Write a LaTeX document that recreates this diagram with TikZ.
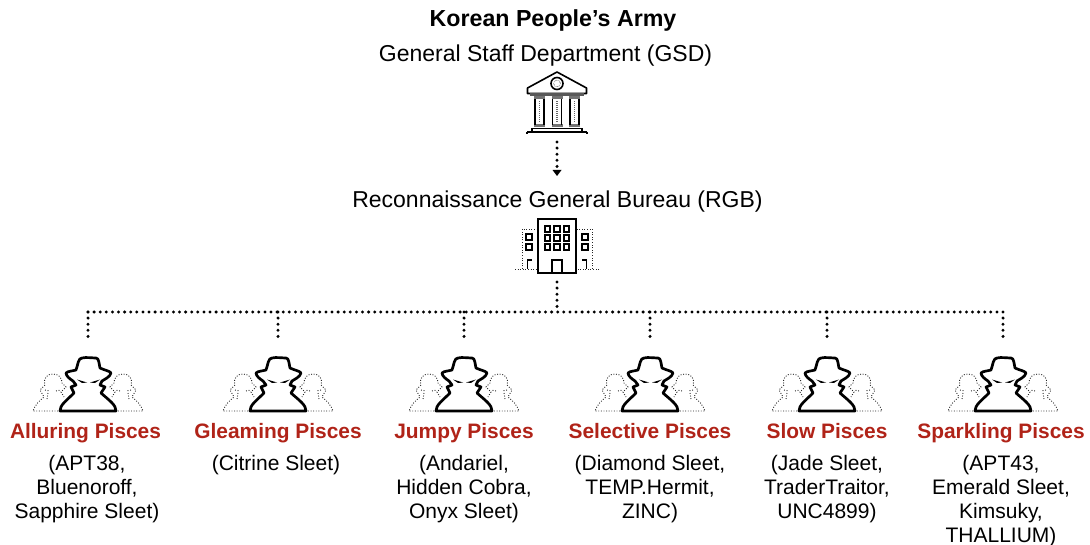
\documentclass[tikz,border=0pt]{standalone}
\usepackage{fontspec}
\setmainfont{Liberation Sans}
\definecolor{pisces}{HTML}{B02318}
\newcommand{\ghostfigure}{%
    \draw[ghost] (-30,0) -- (-55,0) .. controls (-53,-6) and (-49,-10) .. (-44,-14) -- (-48,-21) -- (-43,-26)
      .. controls (-45,-33) and (-41,-37) .. (-35,-37) .. controls (-29,-37) and (-26,-33) .. (-26,-28) -- (-22,-24) -- (-27,-19) -- (-24,-14);
    \draw[ghost] (-43,-21) -- (-38,-20) (-32,-20) -- (-27,-21) (-40,-18) -- (-41,-12);
}
\tikzset{
  x=1pt,y=-1pt,
  headbold/.style={font=\fontsize{23.2}{27}\selectfont\bfseries,anchor=base,inner sep=0pt},
  headplain/.style={font=\fontsize{23}{27}\selectfont,anchor=base,inner sep=0pt},
  group/.style={font=\fontsize{20.9}{24}\selectfont\bfseries,text=pisces,anchor=base,inner sep=0pt},
  alias/.style={font=\fontsize{21}{24}\selectfont,align=center,anchor=north,inner sep=0pt},
  link/.style={line width=3.3pt,line cap=round,dash pattern=on 0pt off 6.1pt},
  ghost/.style={line width=.9pt,dash pattern=on .9pt off 1.7pt,black!85},
  ink/.style={line width=2.7pt,line join=round,black},
  thin ink/.style={line width=1.6pt,black},
  spyicon/.pic={
    \ghostfigure
    \begin{scope}[xscale=-1]\ghostfigure\end{scope}
    \draw[ink,fill=white]
      (-28,0) .. controls (-28,-6) and (-22,-10) .. (-14,-18)
      -- (-17,-24) -- (-12,-26) -- (-15,-30)
      .. controls (-18,-32) and (-22,-35) .. (-22,-38)
      .. controls (-20,-40) and (-15,-40) .. (-12,-41)
      .. controls (-10,-46) and (-10,-53) .. (-6,-53)
      .. controls (-2,-54) and (4,-53) .. (8,-53)
      .. controls (11,-53) and (11,-47) .. (12,-43)
      .. controls (16,-41) and (22,-40) .. (23,-38)
      .. controls (22,-34) and (17,-32) .. (14,-30)
      -- (12,-26) -- (17,-24) -- (13,-18)
      .. controls (22,-10) and (28,-6) .. (28,0) -- cycle;
    \fill (-11,-31.5) -- (-1,-28.5) -- (-6,-28) -- cycle;
    \fill (12,-31.5) -- (2,-28.5) -- (7,-28) -- cycle;
  },
  bankicon/.pic={
    \draw[thin ink,line join=round,fill=white] (-29.5,-19) -- (0,-35) -- (29.5,-19) -- (29.5,-13.5) -- (-29.5,-13.5) -- cycle;
    \draw[thin ink] (0,-23.5) circle (6);
    \draw[black,line width=.5pt,densely dotted] (0,-23.5) circle (3.4);
    \fill[black!65] (-27,-13.5) rectangle (27,-10.5);
    \foreach \c in {-17.5,0,17.5}{
      \fill[black!55] (\c-5.5,-10.5) rectangle (\c+5.5,-7.5);
      \fill[black!55] (\c-5.5,17.5) rectangle (\c+5.5,20.5);
      \draw[thin ink] (\c-4.5,-8) -- (\c-4.5,18) (\c+4.5,-8) -- (\c+4.5,18);
      \draw[black!60,line width=1.2pt,dash pattern=on 1pt off 1pt] (\c,-6) -- (\c,16);
    }
    \draw[thin ink] (-25,21.5) -- (25,21.5) (-25,21.5) -- (-25,24.5) (25,21.5) -- (25,24.5) (-30,25) -- (30,25) (-30,25) -- (-30,27) (30,25) -- (30,27);
  },
  officeicon/.pic={
    \draw[ghost] (-42,50) -- (-21,50) (-35,50) -- (-35,10) -- (-20,10)
                 (42,50) -- (21,50) (35,50) -- (35,10) -- (20,10);
    \draw[line width=2pt] (-19,0) rectangle (19,54);
    \draw[line width=2pt] (-5,41) rectangle (5,54);
    \foreach \a in {-9.5,0,9.5}\foreach \b in {10,19,28}
      \draw[line width=1.8pt] (\a-2.8,\b-2.8) rectangle (\a+2.8,\b+2.8);
    \foreach \s in {-1,1}{
      \draw[line width=1.8pt] (\s*28-2.8,18-2.8) rectangle (\s*28+2.8,18+2.8);
      \draw[line width=1.8pt] (\s*28-2.8,28-2.8) rectangle (\s*28+2.8,28+2.8);
      \draw[line width=1.6pt] (\s*29.5,50) -- (\s*29.5,41) -- (\s*25,41);
    }
  }
}
\begin{document}
\begin{tikzpicture}
\useasboundingbox (0,0) rectangle (1090,545);
\node[headbold] (kpa) at (553,26.5) {Korean People’s Army};
\node[headplain] (gsd) at (545.5,61.5) {General Staff Department (GSD)};
\pic at (557,107) {bankicon};
\coordinate (gsdout) at (557,142);
\node[headplain] (rgb) at (557.5,207.5) {Reconnaissance General Bureau (RGB)};
\coordinate (rgbin) at (557,176);
\pic at (557,219) {officeicon};
\coordinate (rgbout) at (557,282);
\coordinate (bus) at (557,312);
\draw[link] (gsdout) -- (557,167);
\fill (552.5,170) -- (561.5,170) -- (rgbin) -- cycle;
\draw[link] (rgbout) -- (bus);
\foreach \n/\cx/\tx/\ax/\name/\txt in {
  a/88/85.5/87/Alluring Pisces/{(APT38,\\Bluenoroff,\\Sapphire Sleet)},
  b/278/278/276/Gleaming Pisces/{(Citrine Sleet)},
  c/464/464/464/Jumpy Pisces/{(Andariel,\\Hidden Cobra,\\Onyx Sleet)},
  d/650/650/650/Selective Pisces/{(Diamond Sleet,\\TEMP.Hermit,\\ZINC)},
  e/827/827/827/Slow Pisces/{(Jade Sleet,\\TraderTraitor,\\UNC4899)},
  f/1003/1001/1001/Sparkling Pisces/{(APT43,\\Emerald Sleet,\\Kimsuky,\\THALLIUM)}}{
  \coordinate (top\n) at (\cx,312);
  \coordinate (drop\n) at (\cx,339);
  \draw[link] (top\n) -- (drop\n);
  \pic at (\cx,411) {spyicon};
  \node[group] (title\n) at (\tx,438) {\name};
  \node[alias] (names\n) at (\ax,455) {\txt};
}
\draw[link] (topa) -- (topf);
\end{tikzpicture}
\end{document}
